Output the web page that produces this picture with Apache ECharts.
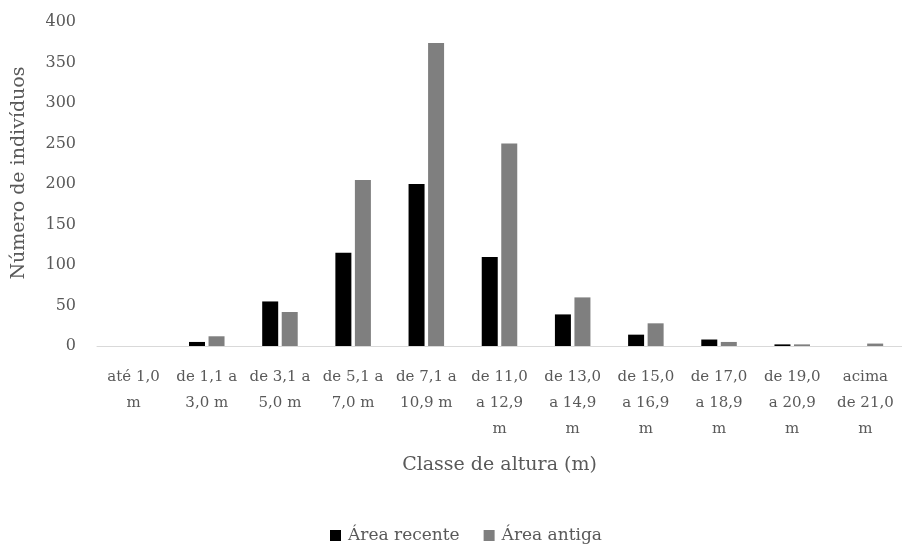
<!DOCTYPE html>
<html>
<head>
<meta charset="utf-8">
<script src="https://cdn.jsdelivr.net/npm/echarts@6/dist/echarts.min.js"></script>
<style>html,body{margin:0;padding:0;background:#fff}#c{width:902px;height:545px}</style>
</head>
<body>
<div id="c"></div>
<script>
var categories = ['até 1,0\nm', 'de 1,1 a\n3,0 m', 'de 3,1 a\n5,0 m', 'de 5,1 a\n7,0 m', 'de 7,1 a\n10,9 m', 'de 11,0\na 12,9\nm', 'de 13,0\na 14,9\nm', 'de 15,0\na 16,9\nm', 'de 17,0\na 18,9\nm', 'de 19,0\na 20,9\nm', 'acima\nde 21,0\nm'];
var areaRecente = [0, 5, 55, 115, 200, 110, 39, 14, 8, 2, 0];
var areaAntiga = [0, 12, 42, 205, 374, 250, 60, 28, 5, 2, 3];
var seriesNames = ['Área recente', 'Área antiga'];
var yTicks = {min: 0, max: 400, interval: 50};
var xTitle = 'Classe de altura (m)';
var yTitle = 'Número de indivíduos';

var FONT = "'DejaVu Serif', 'Liberation Serif', serif";
var TXT = '#595959';
var chart = echarts.init(document.getElementById('c'));
chart.setOption({
  animation: false,
  textStyle: {fontFamily: FONT},
  grid: {left: 97, right: 0, top: 22, bottom: 199, containLabel: false},
  legend: {
    data: seriesNames, top: 522, left: 325, itemWidth: 11, itemHeight: 11, itemGap: 24,
    icon: 'rect',
    textStyle: {color: TXT, fontSize: 17, fontFamily: FONT, padding: [0, 0, 0, 2]}
  },
  graphic: [{
    type: 'text', x: 19, y: 173, rotation: Math.PI / 2,
    style: {text: yTitle, fill: TXT, font: "19px 'DejaVu Serif', 'Liberation Serif', serif", align: 'center', verticalAlign: 'middle'}
  }],
  xAxis: {
    type: 'category', data: categories,
    name: xTitle, nameLocation: 'middle', nameGap: 110,
    nameTextStyle: {color: TXT, fontSize: 19, fontFamily: FONT},
    axisLine: {lineStyle: {color: '#d9d9d9', width: 1}},
    axisTick: {show: false},
    axisLabel: {color: TXT, fontSize: 15, fontFamily: FONT, lineHeight: 26, interval: 0, margin: 18}
  },
  yAxis: {
    type: 'value', min: yTicks.min, max: yTicks.max, interval: yTicks.interval,
    axisLine: {show: false}, axisTick: {show: false}, splitLine: {show: false},
    axisLabel: {color: TXT, fontSize: 16, fontFamily: FONT, margin: 21, padding: [8, 0, 0, 0]}
  },
  series: [
    {name: seriesNames[0], type: 'bar', data: areaRecente, barWidth: 16, barGap: '22%',
      itemStyle: {color: '#000000'}},
    {name: seriesNames[1], type: 'bar', data: areaAntiga, barWidth: 16,
      itemStyle: {color: '#7f7f7f'}}
  ]
});
</script>
</body>
</html>
